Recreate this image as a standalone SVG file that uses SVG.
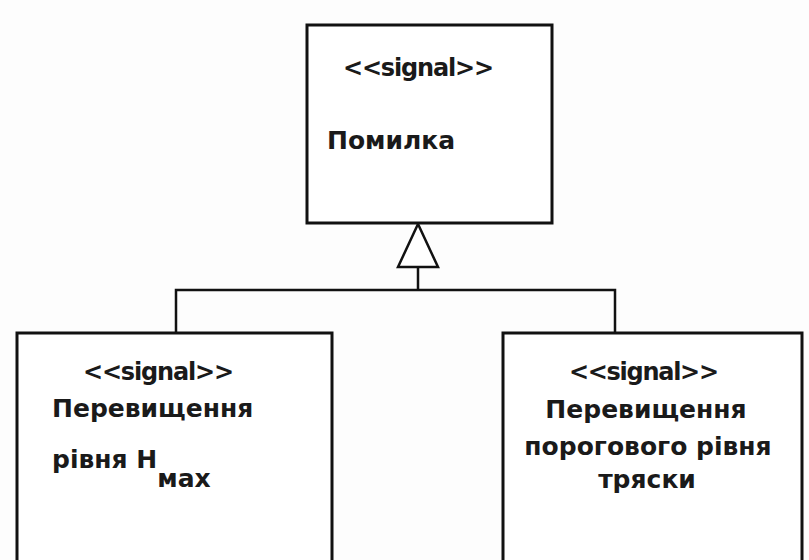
<svg xmlns="http://www.w3.org/2000/svg" width="809" height="560" viewBox="0 0 809 560">
  <style>
    .box { fill: #ffffff; stroke: #111111; stroke-width: 3; }
    .wire { fill: none; stroke: #111111; stroke-width: 2.5; }
    .head { fill: #ffffff; stroke: #111111; stroke-width: 2.5; stroke-linejoin: miter; }
    text { font-family: "DejaVu Sans", Verdana, sans-serif; font-weight: bold; font-size: 25px; fill: #1a1a1a; }
    .stereo { font-size: 24px; }
    .mid { text-anchor: middle; }
  </style>
  <rect x="0" y="0" width="809" height="560" fill="#fdfdfd"/>

  <!-- generalization connectors -->
  <g id="connectors">
    <polyline class="wire" points="176,333 176,290 615,290 615,333"/>
    <line class="wire" x1="418" y1="290" x2="418" y2="267"/>
    <polygon class="head" points="418,224 398,267 438,267"/>
  </g>

  <g id="node-error">
    <rect class="box" x="307" y="25" width="245" height="198"/>
    <text class="stereo" x="343" y="76" textLength="151">&lt;&lt;signal&gt;&gt;</text>
    <text x="327" y="149">Помилка</text>
  </g>

  <g id="node-hmax">
    <rect class="box" x="17" y="333" width="315" height="240"/>
    <text class="stereo" x="83" y="380" textLength="151">&lt;&lt;signal&gt;&gt;</text>
    <text x="52" y="417">Перевищення</text>
    <text x="52" y="468">рівня H<tspan dy="19">мах</tspan></text>
  </g>

  <g id="node-shake">
    <rect class="box" x="503" y="333" width="299" height="240"/>
    <text class="stereo" x="569" y="380" textLength="150">&lt;&lt;signal&gt;&gt;</text>
    <text class="mid" x="646" y="418">Перевищення</text>
    <text class="mid" x="648" y="455">порогового рівня</text>
    <text class="mid" x="647" y="488">тряски</text>
  </g>
</svg>
